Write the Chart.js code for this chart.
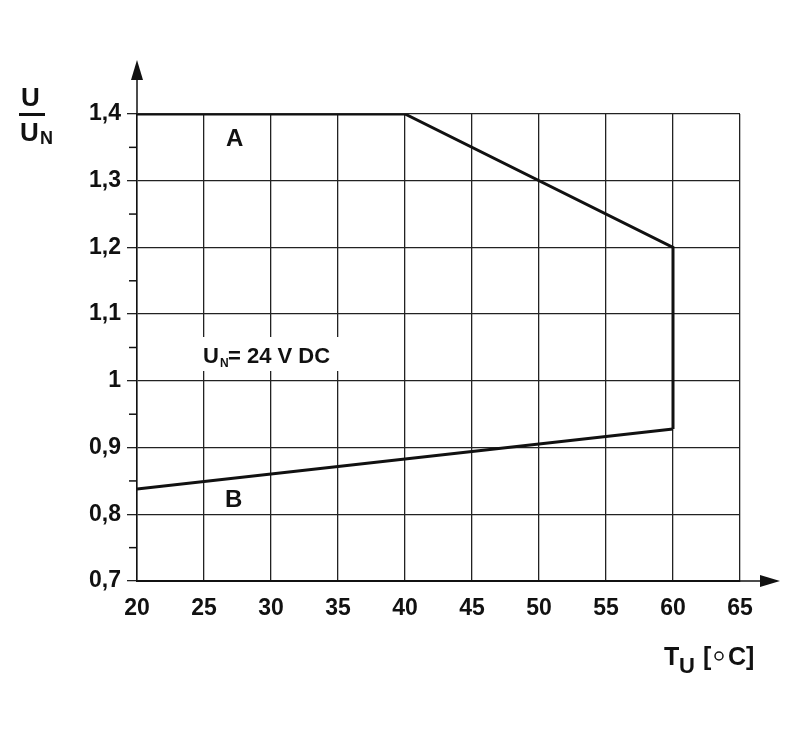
<!DOCTYPE html>
<html><head><script src="https://cdn.jsdelivr.net/npm/chart.js@4"></script>
<style>body{margin:0;background:#fff}#w{width:800px;height:750px}</style></head>
<body><div id="w"><canvas id="c"></canvas></div>
<script>
const curveA_x=[20,40,60,60];
const curveA_y=[1.4,1.4,1.2,0.928];
const curveB_x=[20,60];
const curveB_y=[0.838,0.928];
const xTicks=[20,25,30,35,40,45,50,55,60,65];
const yTicks=[0.7,0.8,0.9,1.0,1.1,1.2,1.3,1.4];
const F='"Liberation Sans", Arial, sans-serif';
const deco={id:'deco',afterDraw(ch){
 const c=ch.ctx,xs=ch.scales.x,ys=ch.scales.y,a=ch.chartArea;
 c.save();c.strokeStyle='#111';c.fillStyle='#111';c.lineWidth=1.5;
 for(let v=0.75;v<1.4;v+=0.1){const y=ys.getPixelForValue(v);c.beginPath();c.moveTo(a.left-8,y);c.lineTo(a.left,y);c.stroke();}
 c.beginPath();c.moveTo(a.left,a.top);c.lineTo(a.left,75);c.stroke();
 c.beginPath();c.moveTo(a.left-6,80);c.lineTo(a.left,60);c.lineTo(a.left+6,80);c.fill();
 c.beginPath();c.moveTo(a.right,a.bottom);c.lineTo(765,a.bottom);c.stroke();
 c.beginPath();c.moveTo(760,a.bottom-6);c.lineTo(780,a.bottom);c.lineTo(760,a.bottom+6);c.fill();
 c.textBaseline='alphabetic';c.textAlign='left';
 c.font='bold 24px '+F;
 c.fillText('A',226,146);c.fillText('B',225,507);
 c.font='bold 26px '+F;
 c.fillText('U',21,106);c.fillRect(19,113,26,3);c.fillText('U',20,141);
 c.font='bold 18px '+F;c.fillText('N',40,144);
 c.font='bold 25px '+F;c.fillText('T',664,665);c.font='bold 22px '+F;c.fillText('U',679,673);
 c.font='bold 25px '+F;c.fillText('[',703,665);c.fillText('C]',728,665);
 c.beginPath();c.lineWidth=1.5;c.arc(719,656,4,0,Math.PI*2);c.stroke();
 c.fillStyle='#fff';c.fillRect(193,337,163,34);c.fillStyle='#111';
 c.font='bold 22px '+F;c.fillText('U',203,363);c.font='bold 12px '+F;c.fillText('N',220,367);
 c.font='bold 22px '+F;c.fillText('= 24 V DC',228,363);
 c.restore();}};
new Chart(document.getElementById('c'),{type:'scatter',
 data:{datasets:[
  {data:curveA_x.map((x,i)=>({x,y:curveA_y[i]})),showLine:true,borderColor:'#111',borderWidth:3,pointRadius:0,fill:false},
  {data:curveB_x.map((x,i)=>({x,y:curveB_y[i]})),showLine:true,borderColor:'#111',borderWidth:3,pointRadius:0,fill:false}]},
 options:{responsive:true,maintainAspectRatio:false,animation:false,
  layout:{padding:{left:0,right:60,top:114,bottom:0}},
  plugins:{legend:{display:false},tooltip:{enabled:false}},
  scales:{
   x:{type:'linear',min:20,max:65,afterBuildTicks:s=>{s.ticks=xTicks.map(v=>({value:v}))},
    afterFit:s=>{s.height=169},
    grid:{color:'#222',lineWidth:1.3,tickLength:0,drawTicks:false},border:{color:'#111',width:2},
    ticks:{color:'#111',font:{family:F,size:23,weight:'bold'},padding:14,maxRotation:0}},
   y:{type:'linear',min:0.7,max:1.4,afterBuildTicks:s=>{s.ticks=yTicks.map(v=>({value:v}))},
    afterFit:s=>{s.width=137},
    grid:{color:'#222',lineWidth:1.3,tickLength:10},border:{color:'#111',width:1.5},
    ticks:{color:'#111',font:{family:F,size:23,weight:'bold'},padding:6,
     callback:v=>{const r=Math.round(v*10)/10;return r===1?'1':r.toFixed(1).replace('.',',')}}}}},
 plugins:[deco]});
</script></body></html>
